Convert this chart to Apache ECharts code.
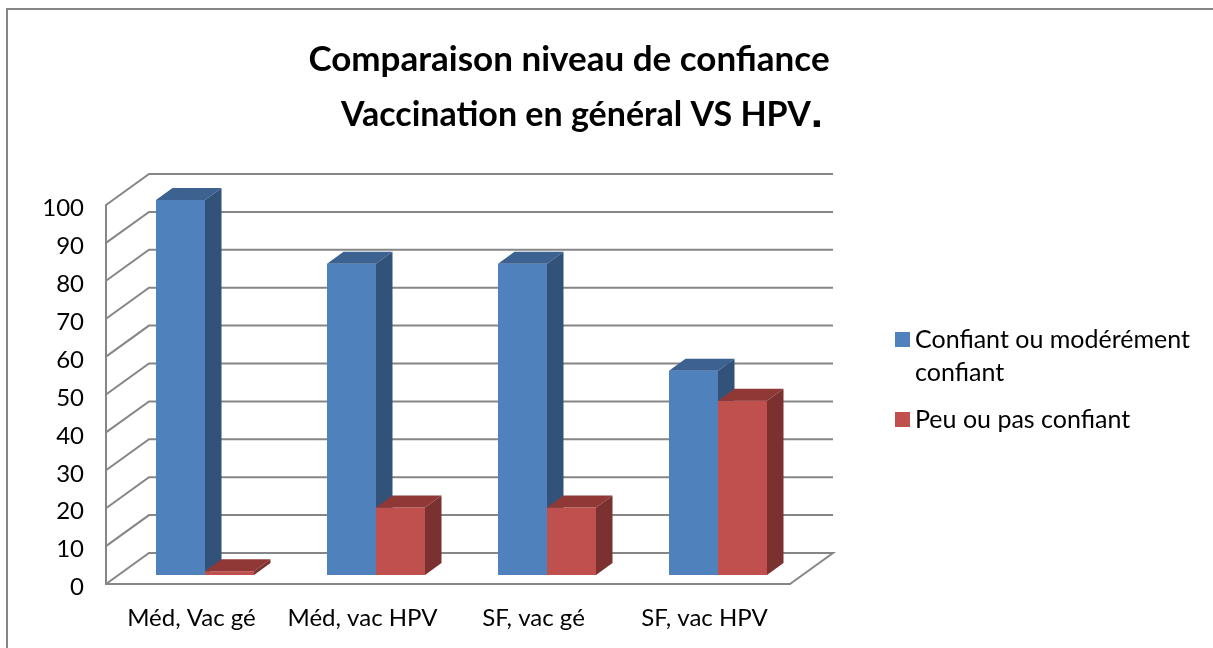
<!DOCTYPE html>
<html><head><meta charset="utf-8">
<style>html,body{margin:0;padding:0;background:#fff}#c{width:1213px;height:648px}</style>
<script src="https://cdn.jsdelivr.net/npm/echarts@6/dist/echarts.min.js"></script>
</head><body><div id="c"></div>
<script>
const categories = ['Méd, Vac gé', 'Méd, vac HPV', 'SF, vac gé', 'SF, vac HPV'];
const confiant = [100, 83, 83, 54.5];
const peuConfiant = [1, 18, 18, 46.5];
const wallTicks = [0, 10, 20, 30, 40, 50, 60, 70, 80, 90, 100];
const seriesNames = ['Confiant ou modérément confiant', 'Peu ou pas confiant'];
const legendLabels = ['\nConfiant ou modérément\nconfiant', 'Peu ou pas confiant'];
const titleLines = ['Comparaison niveau de confiance', 'Vaccination en général VS HPV'];

const FONT = 'Lato';
const GREY = '#868686';
const WALL_DX = 43, WALL_DY = -31;
const BAR_DX = 16.5, BAR_DY = -12, BAR_W = 49;
const COLORS = [
  {front: '#4f81bd', top: '#3b6291', side: '#32527a'},
  {front: '#c0504d', top: '#8f3836', side: '#7b3130'}
];

function poly(points, fill) {
  return {type: 'polygon', shape: {points}, style: {fill, stroke: null}};
}
function barRenderer(k) {
  return function (params, api) {
    const c = api.value(0), v = api.value(1);
    const top = api.coord([c, v]), base = api.coord([c, 0]);
    const x0 = k === 0 ? top[0] - BAR_W : top[0], x1 = x0 + BAR_W;
    const yt = top[1], yb = base[1];
    const col = COLORS[k];
    return {type: 'group', children: [
      poly([[x0, yb], [x1, yb], [x1, yt], [x0, yt]], col.front),
      poly([[x0, yt], [x1, yt], [x1 + BAR_DX, yt + BAR_DY], [x0 + BAR_DX, yt + BAR_DY]], col.top),
      poly([[x1, yb], [x1 + BAR_DX, yb + BAR_DY], [x1 + BAR_DX, yt + BAR_DY], [x1, yt]], col.side)
    ]};
  };
}
function wallRenderer(params, api) {
  const v = api.value(1);
  const cs = params.coordSys;
  const y = api.coord([0, v])[1];
  const xl = cs.x, xr = cs.x + cs.width;
  const pts = v === 0
    ? [[xl, y], [xl + WALL_DX, y + WALL_DY], [xr + WALL_DX, y + WALL_DY], [xr, y]]
    : [[xl, y], [xl + WALL_DX, y + WALL_DY], [xr + WALL_DX, y + WALL_DY]];
  return {type: 'polyline', shape: {points: pts}, style: {stroke: GREY, lineWidth: 2, fill: null}};
}

const chart = echarts.init(document.getElementById('c'), null, {renderer: 'canvas'});
chart.setOption({
  animation: false,
  backgroundColor: '#fff',
  title: [
    {text: titleLines[0], left: 564, top: 37, textAlign: 'center',
     textStyle: {fontFamily: FONT, fontWeight: 'bold', fontSize: 35, color: '#000'}},
    {text: '{a|' + titleLines[1] + '}{b|.}', left: 577, top: 88, textAlign: 'center',
     textStyle: {rich: {
       a: {fontFamily: FONT, fontWeight: 'bold', fontSize: 34, color: '#000'},
       b: {fontFamily: 'Liberation Sans', fontWeight: 'bold', fontSize: 44, color: '#000'}
     }}}
  ],
  legend: {
    orient: 'vertical', left: 895, top: 290, padding: 0, itemWidth: 15, itemHeight: 15, itemGap: 14,
    icon: 'rect', data: seriesNames,
    formatter: n => legendLabels[seriesNames.indexOf(n)],
    textStyle: {fontFamily: FONT, fontSize: 25, color: '#000', lineHeight: 33}
  },
  grid: [
    {left: 106, width: 684, top: 205, height: 379},
    {left: 119.5, width: 684, top: 200, height: 375}
  ],
  xAxis: [
    {type: 'category', gridIndex: 0, data: categories, axisTick: {show: false},
     axisLine: {lineStyle: {color: GREY, width: 2}},
     axisLabel: {margin: 22, fontFamily: FONT, fontSize: 24, color: '#000', interval: 0}},
    {type: 'category', gridIndex: 1, data: categories, show: false}
  ],
  yAxis: [
    {type: 'value', gridIndex: 0, min: 0, max: 100, interval: 10, splitLine: {show: false},
     axisTick: {show: false}, axisLine: {show: true, lineStyle: {color: GREY, width: 2}},
     axisLabel: {margin: 22, color: '#000', formatter: '{t|{value}}',
       rich: {t: {fontFamily: FONT, fontSize: 24, color: '#000', padding: [7, 0, 0, 0]}}}},
    {type: 'value', gridIndex: 1, min: 0, max: 100, show: false, splitLine: {show: false}}
  ],
  series: [
    {type: 'custom', name: 'murs', xAxisIndex: 0, yAxisIndex: 0, renderItem: wallRenderer, silent: true,
     encode: {x: 0, y: 1}, data: wallTicks.map(t => [0, t]), z: 1},
    {type: 'custom', name: seriesNames[0], xAxisIndex: 1, yAxisIndex: 1, renderItem: barRenderer(0),
     itemStyle: {color: COLORS[0].front}, encode: {x: 0, y: 1}, data: confiant.map((v, i) => [i, v]), z: 3},
    {type: 'custom', name: seriesNames[1], xAxisIndex: 1, yAxisIndex: 1, renderItem: barRenderer(1),
     itemStyle: {color: COLORS[1].front}, encode: {x: 0, y: 1}, data: peuConfiant.map((v, i) => [i, v]), z: 4}
  ],
  graphic: [
    {type: 'polyline', silent: true, shape: {points: [[7, 648], [7, 9], [1213, 9]]},
     style: {stroke: GREY, lineWidth: 2, fill: null}, z: 0}
  ]
});
</script></body></html>
